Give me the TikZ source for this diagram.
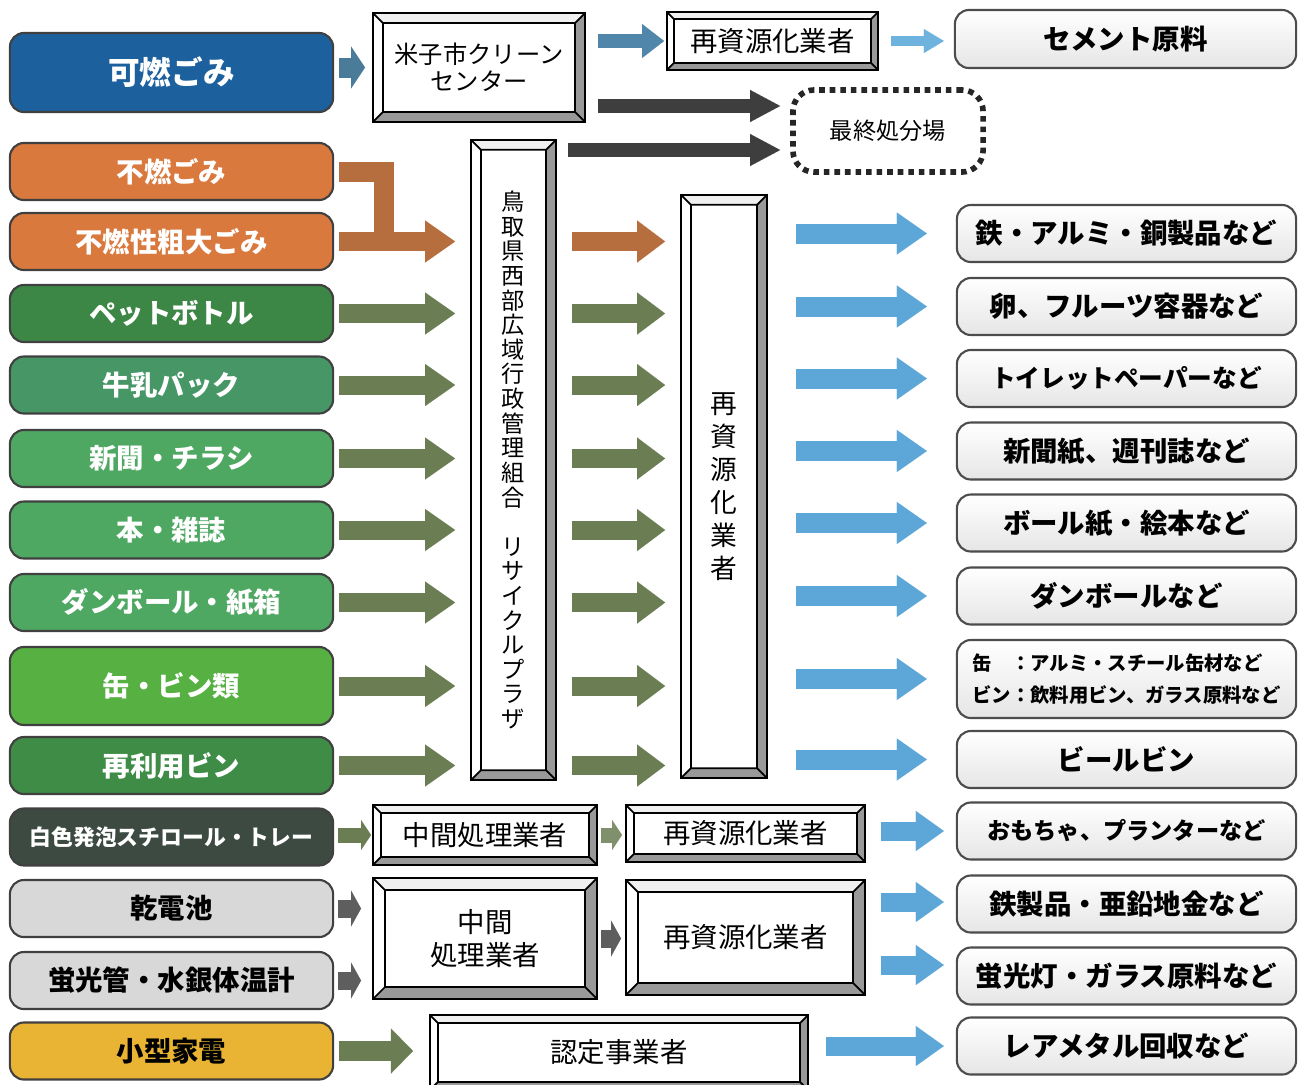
\documentclass[tikz,border=0pt]{standalone}
\usepackage{fontspec}
\setmainfont{Noto Sans CJK JP}
\usepackage{tikz}
\usetikzlibrary{arrows.meta,shapes}

\definecolor{kanenc}{RGB}{28,96,158}
\definecolor{funenc}{RGB}{217,121,62}
\definecolor{petc}{RGB}{60,134,70}
\definecolor{milkc}{RGB}{70,150,102}
\definecolor{newsc}{RGB}{78,168,98}
\definecolor{canc}{RGB}{86,176,66}
\definecolor{reusec}{RGB}{62,140,70}
\definecolor{styroc}{RGB}{60,74,66}
\definecolor{batc}{RGB}{216,216,216}
\definecolor{kadenc}{RGB}{233,180,52}
\definecolor{olv}{RGB}{107,125,82}
\definecolor{orr}{RGB}{182,110,62}
\definecolor{blu}{RGB}{92,166,216}
\definecolor{drk}{RGB}{62,62,62}
\definecolor{gry}{RGB}{94,94,94}
\definecolor{stl}{RGB}{74,124,154}
\definecolor{stlb}{RGB}{80,134,170}
\definecolor{lblu}{RGB}{110,178,222}

\begin{document}
\begin{tikzpicture}[
  x=0.01cm, y=-0.01cm,
  every node/.style = {align=center, inner sep=0pt},
  src/.style = {draw=black!75, rounded corners=4pt, line width=0.6pt,
    minimum width=3.23cm, minimum height=0.57cm, text=white,
    font=\fontsize{7.8}{9}\selectfont\bfseries},
  dst/.style = {draw=black!70, rounded corners=4pt, line width=0.6pt,
    top color=white, bottom color=black!10,
    minimum width=3.39cm, minimum height=0.57cm,
    font=\fontsize{7.8}{9}\selectfont\bfseries},
  bevel/.style = {draw, fill=white, line width=0.5pt,
    font=\fontsize{7.8}{9}\selectfont,
    path picture={
      \coordinate (bsw) at (path picture bounding box.south west);
      \coordinate (bne) at (path picture bounding box.north east);
      \coordinate (bse) at (path picture bounding box.south east);
      \coordinate (bnw) at (path picture bounding box.north west);
      \fill[black!40] (bne) -- (bse) -- (bsw) -- ([xshift=#1,yshift=#1]bsw)
        -- ([xshift=-#1,yshift=#1]bse) -- ([xshift=-#1,yshift=-#1]bne) -- cycle;
      \fill[black!6] (bnw) -- (bne) -- ([xshift=-#1,yshift=-#1]bne)
        -- ([xshift=#1,yshift=-#1]bnw) -- cycle;
      \draw[line width=0.5pt] ([xshift=#1,yshift=#1]bsw) rectangle ([xshift=-#1,yshift=-#1]bne)
        (bsw) -- ([xshift=#1,yshift=#1]bsw) (bse) -- ([xshift=-#1,yshift=#1]bse)
        (bne) -- ([xshift=-#1,yshift=-#1]bne) (bnw) -- ([xshift=#1,yshift=-#1]bnw);
    }},
  bevel/.default=0.1cm,
  dotbox/.style = {draw=black!85, rounded corners=6pt, line width=1.6pt,
    dash pattern=on 1.6pt off 1.4pt, fill=white,
    font=\fontsize{6.6}{8}\selectfont},
  blk/.style n args={3}{line width=#1,
    -{Triangle[length=#2, width=#3, line width=0.01pt]}},
  larr/.style = {blk={0.19cm}{0.3cm}{0.42cm}, color=olv,
    shorten <=0.05cm, shorten >=0.15cm},
  marr/.style = {blk={0.19cm}{0.28cm}{0.42cm}, color=olv,
    shorten <=0.15cm, shorten >=0.15cm},
  rarr/.style = {blk={0.2cm}{0.3cm}{0.42cm}, color=blu,
    shorten <=0.28cm, shorten >=0.29cm},
  sarr/.style = {blk={0.19cm}{0.28cm}{0.4cm}, color=blu,
    shorten <=0.15cm, shorten >=0.12cm},
  darr/.style = {blk={0.14cm}{0.3cm}{0.32cm}, color=drk, shorten >=0.1cm},
  garr/.style = {blk={0.18cm}{0.1cm}{0.36cm}, color=gry,
    shorten <=0.04cm, shorten >=0.11cm}]

  \useasboundingbox (0,0) rectangle (1306,1084);

  \node[src, fill=kanenc, minimum height=0.79cm,
    font=\fontsize{9}{10}\selectfont\bfseries] (kanen) at (171.5,72.5) {可燃ごみ};
  \node[src, fill=funenc] (funen) at (171.5,171.5) {不燃ごみ};
  \node[src, fill=funenc] (sodai) at (171.5,241.5) {不燃性粗大ごみ};
  \node[src, fill=petc] (pet) at (171.5,313.5) {ペットボトル};
  \node[src, fill=milkc] (milk) at (171.5,385) {牛乳パック};
  \node[src, fill=newsc] (news) at (171.5,458.5) {新聞・チラシ};
  \node[src, fill=newsc] (book) at (171.5,530) {本・雑誌};
  \node[src, fill=newsc] (danbo) at (171.5,602.5) {ダンボール・紙箱};
  \node[src, fill=canc, minimum height=0.78cm] (can) at (171.5,686) {缶・ビン類};
  \node[src, fill=reusec] (reuse) at (171.5,765.5) {再利用ビン};
  \node[src, fill=styroc, font=\fontsize{6.2}{7}\selectfont\bfseries] (styro) at (171.5,837) {白色発泡スチロール・トレー};
  \node[src, fill=batc, text=black] (battery) at (171.5,908.5) {乾電池};
  \node[src, fill=batc, text=black] (lamp) at (171.5,980.5) {蛍光管・水銀体温計};
  \node[src, fill=kadenc, text=black] (kaden) at (171.5,1051) {小型家電};

  \node[bevel, minimum width=2.12cm, minimum height=1.09cm,
    font=\fontsize{6.9}{7.7}\selectfont] (clean) at (479,67.5) {米子市クリーン\\センター};
  \node[bevel, minimum width=0.85cm, minimum height=6.4cm,
    font=\fontsize{6.6}{7}\selectfont] (plaza) at (513.5,460)
    {鳥\\取\\県\\西\\部\\広\\域\\行\\政\\管\\理\\組\\合\\[7pt]リ\\サ\\イ\\ク\\ル\\プ\\ラ\\ザ};
  \node[bevel=0.07cm, minimum width=2.11cm, minimum height=0.58cm] (recyA) at (772.5,41) {再資源化業者};
  \node[dotbox, minimum width=1.9cm, minimum height=0.82cm] (landfill) at (888,131) {最終処分場};
  \node[bevel, minimum width=0.86cm, minimum height=5.83cm,
    font=\fontsize{7.6}{9.4}\selectfont] (recyB) at (724,486.5) {再\\資\\源\\化\\業\\者};
  \node[bevel=0.08cm, minimum width=2.24cm, minimum height=0.6cm] (midA) at (485,835) {中間処理業者};
  \node[bevel=0.08cm, minimum width=2.39cm, minimum height=0.57cm] (recyC) at (745.5,833.5) {再資源化業者};
  \node[bevel=0.12cm, minimum width=2.24cm, minimum height=1.21cm,
    font=\fontsize{7.8}{9.4}\selectfont] (midB) at (485,938.5) {中間\\処理業者};
  \node[bevel=0.12cm, minimum width=2.39cm, minimum height=1.15cm] (recyD) at (745.5,937.5) {再資源化業者};
  \node[bevel=0.08cm, minimum width=3.78cm, minimum height=0.75cm] (nintei) at (619,1052.5) {認定事業者};

  \node[dst, minimum width=3.41cm, minimum height=0.58cm] (cement) at (1125.5,39) {セメント原料};
  \node[dst] (outA) at (1126.5,233.5) {鉄・アルミ・銅製品など};
  \node[dst] (outB) at (1126.5,306.5) {卵、フルーツ容器など};
  \node[dst, font=\fontsize{7}{8}\selectfont\bfseries] (outC) at (1126.5,378.5) {トイレットペーパーなど};
  \node[dst] (outD) at (1126.5,451) {新聞紙、週刊誌など};
  \node[dst] (outE) at (1126.5,523) {ボール紙・絵本など};
  \node[dst] (outF) at (1126.5,596) {ダンボールなど};
  \node[dst, minimum height=0.78cm, align=left,
    font=\fontsize{5.5}{9}\selectfont\bfseries] (outG) at (1126.5,679)
    {缶\hspace{1em}：アルミ・スチール缶材など\\ビン：飲料用ビン、ガラス原料など};
  \node[dst] (outH) at (1126.5,759.5) {ビールビン};
  \node[dst, font=\fontsize{6.6}{8}\selectfont\bfseries] (outI) at (1126.5,831) {おもちゃ、プランターなど};
  \node[dst] (outJ) at (1126.5,904) {鉄製品・亜鉛地金など};
  \node[dst] (outK) at (1126.5,976) {蛍光灯・ガラス原料など};
  \node[dst] (outL) at (1126.5,1046) {レアメタル回収など};

  \draw[blk={0.2cm}{0.14cm}{0.42cm}, color=stl, shorten <=0.05cm, shorten >=0.07cm]
    (kanen.east |- clean.west) -- (clean.west);
  \draw[blk={0.14cm}{0.22cm}{0.34cm}, color=stlb, shorten <=0.12cm, shorten >=0.02cm]
    (clean.east |- recyA.west) -- (recyA.west);
  \draw[blk={0.1cm}{0.2cm}{0.24cm}, color=lblu, shorten <=0.12cm, shorten >=0.1cm]
    (recyA.east) -- (cement.west |- recyA.east);
  \coordinate (lfA) at ([yshift=0.25cm]landfill.west);
  \coordinate (lfB) at ([yshift=-0.19cm]landfill.west);
  \draw[darr, shorten <=0.12cm] (clean.east |- lfA) -- (lfA);
  \draw[darr, shorten <=0.11cm] (plaza.east |- lfB) -- (lfB);

  \draw[line width=0.2cm, color=orr, shorten <=0.05cm] (funen.east) -| ([xshift=0.5cm]sodai.east);
  \draw[larr, color=orr] (sodai.east) -- (plaza.west |- sodai.east);
  \draw[larr] (pet.east) -- (plaza.west |- pet.east);
  \draw[larr] (milk.east) -- (plaza.west |- milk.east);
  \draw[larr] (news.east) -- (plaza.west |- news.east);
  \draw[larr] (book.east) -- (plaza.west |- book.east);
  \draw[larr] (danbo.east) -- (plaza.west |- danbo.east);
  \draw[larr] (can.east) -- (plaza.west |- can.east);
  \draw[larr] (reuse.east) -- (plaza.west |- reuse.east);

  \draw[marr, color=orr] (plaza.east |- sodai) -- (recyB.west |- sodai);
  \draw[marr] (plaza.east |- pet) -- (recyB.west |- pet);
  \draw[marr] (plaza.east |- milk) -- (recyB.west |- milk);
  \draw[marr] (plaza.east |- news) -- (recyB.west |- news);
  \draw[marr] (plaza.east |- book) -- (recyB.west |- book);
  \draw[marr] (plaza.east |- danbo) -- (recyB.west |- danbo);
  \draw[marr] (plaza.east |- can) -- (recyB.west |- can);
  \draw[marr] (plaza.east |- reuse) -- (recyB.west |- reuse);

  \draw[rarr] (recyB.east |- outA) -- (outA.west);
  \draw[rarr] (recyB.east |- outB) -- (outB.west);
  \draw[rarr] (recyB.east |- outC) -- (outC.west);
  \draw[rarr] (recyB.east |- outD) -- (outD.west);
  \draw[rarr] (recyB.east |- outE) -- (outE.west);
  \draw[rarr] (recyB.east |- outF) -- (outF.west);
  \draw[rarr] (recyB.east |- outG) -- (outG.west);
  \draw[rarr] (recyB.east |- outH) -- (outH.west);

  \draw[blk={0.15cm}{0.1cm}{0.3cm}, color=olv, shorten <=0.04cm, shorten >=0.01cm]
    (styro.east |- midA.west) -- (midA.west);
  \draw[blk={0.15cm}{0.1cm}{0.3cm}, color=olv!85, shorten <=0.03cm, shorten >=0.03cm]
    (midA.east) -- (recyC.west |- midA.east);
  \draw[sarr] (recyC.east |- outI) -- (outI.west);

  \draw[garr] (battery.east) -- (midB.west |- battery.east);
  \draw[garr] (lamp.east) -- (midB.west |- lamp.east);
  \draw[garr, shorten <=0.03cm, shorten >=0.04cm] (midB.east) -- (recyD.west |- midB.east);
  \coordinate (jt) at ([yshift=0.02cm]outJ.west);
  \coordinate (kt) at ([yshift=0.11cm]outK.west);
  \draw[sarr] (recyD.east |- jt) -- (jt);
  \draw[sarr] (recyD.east |- kt) -- (kt);

  \draw[blk={0.2cm}{0.22cm}{0.45cm}, color=olv, shorten <=0.05cm, shorten >=0.16cm]
    (kaden.east) -- (nintei.west |- kaden.east);
  \draw[sarr, shorten <=0.17cm] (nintei.east |- outL) -- (outL.west);
\end{tikzpicture}
\end{document}
